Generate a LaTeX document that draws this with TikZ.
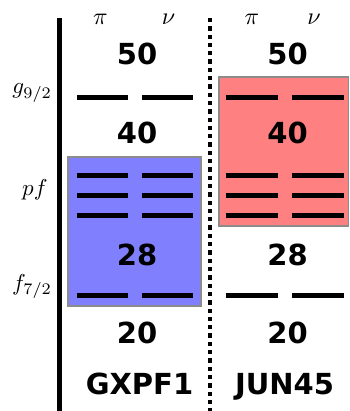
\documentclass[tikz,border=0pt]{standalone}
\usepackage{fontspec}
\newfontfamily\numfont{DejaVu Sans Bold}
\begin{document}
\begin{tikzpicture}[x=1pt,y=-1pt,
  lvl/.style={line width=4.5pt},
  magic/.style={font=\fontsize{29}{29}\numfont, inner sep=0pt, anchor=base},
  iso/.style={font=\normalsize, scale=2.4, inner sep=0pt, anchor=base},
  orb/.style={font=\normalsize, scale=2.3, inner sep=0pt, anchor=base east},
  space/.style={draw=black!45, line width=1.2pt}]
\useasboundingbox (0,0) rectangle (349,411);

% model spaces
\fill[blue!50!white, space] (68,157) rectangle (201,306);
\fill[red!50!white, space] (219,77) rectangle (348.4,226);

% axis and separator
\draw[line width=5pt] (59.5,18) -- (59.5,411);
\draw[line width=4pt, dash pattern=on 4.3pt off 4pt] (210,18) -- (210,411);

% orbital labels
\node[orb] (g92) at (52.5,94) {$g_{9/2}$};
\node[orb] (pf)  at (48,196) {$pf$};
\node[orb] (f72) at (52.5,290) {$f_{7/2}$};

% proton / neutron headers
\node[iso] (piL) at (100.5,25) {$\pi$};
\node[iso] (nuL) at (168.5,25) {$\nu$};
\node[iso] (piR) at (252,25) {$\pi$};
\node[iso] (nuR) at (314,25) {$\nu$};

% single-particle levels
\foreach \y in {97.5,175.5,195.5,215.5,295.5}{
  \draw[lvl] (77,\y) -- (128,\y);
  \draw[lvl] (142,\y) -- (193,\y);
  \draw[lvl] (226,\y) -- (278,\y);
  \draw[lvl] (292,\y) -- (344,\y);
}

% magic numbers
\node[magic] (m50L) at (137,65) {50};
\node[magic] (m40L) at (137,143.5) {40};
\node[magic] (m28L) at (137,265) {28};
\node[magic] (m20L) at (137,343) {20};
\node[magic] (m50R) at (287.5,65) {50};
\node[magic] (m40R) at (287.5,143.5) {40};
\node[magic] (m28R) at (287.5,265) {28};
\node[magic] (m20R) at (287.5,343) {20};

% interaction names
\node[magic] (gx) at (139.5,394) {GXPF1};
\node[magic] (jun) at (284.5,394) {JUN45};
\end{tikzpicture}
\end{document}
